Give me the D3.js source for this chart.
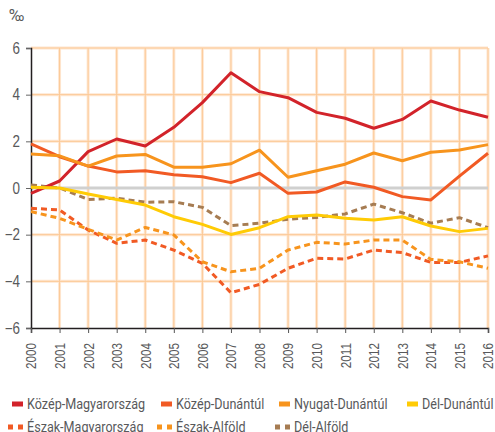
<!DOCTYPE html>
<html>
<head>
<meta charset="utf-8">
<script src="https://cdn.jsdelivr.net/npm/d3@7"></script>
<style>
  body { margin: 0; background: #fff; }
  svg { font-family: "Roboto", "Liberation Sans", sans-serif; }
</style>
</head>
<body>
<svg id="chart"></svg>
<script>
// chart size, matches the window
const SVG_WIDTH = 495;
const SVG_HEIGHT = 432;
// the original font is a condensed one, so texts are squeezed a bit
const SQUEEZE = 0.84;

const years = d3.range(2000, 2017);
const yTicks = [-6, -4, -2, 0, 2, 4, 6];

// values (per mille)
const kozepMagyar = [-0.23, 0.3, 1.56, 2.1, 1.8, 2.6, 3.66, 4.94, 4.13, 3.87, 3.24, 2.99, 2.56, 2.94, 3.73, 3.34, 3.03];
const kozepDunantul = [1.89, 1.34, 0.94, 0.69, 0.74, 0.57, 0.48, 0.23, 0.63, -0.23, -0.17, 0.26, 0.03, -0.37, -0.51, 0.51, 1.49];
const nyugatDunantul = [1.46, 1.38, 0.94, 1.37, 1.44, 0.89, 0.89, 1.04, 1.62, 0.46, 0.74, 1.02, 1.5, 1.17, 1.53, 1.63, 1.86];
const delDunantul = [0.03, 0, -0.26, -0.49, -0.73, -1.23, -1.56, -1.99, -1.7, -1.23, -1.16, -1.3, -1.37, -1.23, -1.63, -1.87, -1.73];
const eszakMagyar = [-0.87, -0.94, -1.8, -2.37, -2.23, -2.66, -3.23, -4.49, -4.13, -3.44, -3.01, -3.04, -2.66, -2.77, -3.19, -3.19, -2.91];
const eszakAlfold = [-1.01, -1.3, -1.77, -2.23, -1.69, -2.01, -3.16, -3.59, -3.44, -2.66, -2.33, -2.4, -2.23, -2.23, -3.06, -3.16, -3.44];
const delAlfold = [0.13, 0, -0.49, -0.44, -0.61, -0.59, -0.83, -1.61, -1.51, -1.34, -1.26, -1.11, -0.69, -1.06, -1.51, -1.27, -1.7];

const series = [
  {name: 'Közép-Magyarország', values: kozepMagyar, color: '#d2232a', dashed: false},
  {name: 'Közép-Dunántúl', values: kozepDunantul, color: '#f15a24', dashed: false},
  {name: 'Nyugat-Dunántúl', values: nyugatDunantul, color: '#f7941d', dashed: false},
  {name: 'Dél-Dunántúl', values: delDunantul, color: '#ffcb05', dashed: false},
  {name: 'Észak-Magyarország', values: eszakMagyar, color: '#f15a24', dashed: true},
  {name: 'Észak-Alföld', values: eszakAlfold, color: '#f7941d', dashed: true},
  {name: 'Dél-Alföld', values: delAlfold, color: '#a67c52', dashed: true}
];

const svg = d3.select('#chart')
  .attr('width', SVG_WIDTH)
  .attr('height', SVG_HEIGHT);

const x = d3.scaleLinear().domain([2000, 2016]).range([31, 488]);
const y = d3.scaleLinear().domain([-6, 6]).range([328, 48]);

// grid
const grid = svg.append('g');
for (const stroke of [{c: '#fee6d0', w: 3}, {c: '#fcc996', w: 1}]) {
  grid.selectAll(null)
    .data(years.slice(1))
    .enter().append('line')
    .attr('x1', d => x(d)).attr('x2', d => x(d))
    .attr('y1', y(6)).attr('y2', y(-6))
    .attr('stroke', stroke.c).attr('stroke-width', stroke.w);
  grid.selectAll(null)
    .data([6, 4, 2, -2, -4])
    .enter().append('line')
    .attr('x1', x(2000)).attr('x2', x(2016))
    .attr('y1', d => y(d)).attr('y2', d => y(d))
    .attr('stroke', stroke.c).attr('stroke-width', stroke.w);
}

// zero line
svg.append('line')
  .attr('x1', x(2000)).attr('x2', x(2016))
  .attr('y1', y(0)).attr('y2', y(0))
  .attr('stroke', '#d0d0cf').attr('stroke-width', 3);

// axes
const yAxis = svg.append('g')
  .attr('transform', `translate(${x(2000)},0)`)
  .call(d3.axisLeft(y).tickValues(yTicks).tickSize(5)
    .tickFormat(d => d < 0 ? '\u2212' + Math.abs(d) : d));
yAxis.select('.domain').attr('stroke', '#231f20').attr('stroke-width', 1.5);
yAxis.selectAll('.tick line').attr('stroke', '#666');
yAxis.selectAll('.tick text')
  .attr('fill', '#58595b').attr('font-size', 16)
  .attr('font-family', 'inherit')
  .attr('x', -11 / SQUEEZE)
  .attr('transform', `scale(${SQUEEZE},1)`);

const xAxis = svg.append('g')
  .attr('transform', `translate(0,${y(-6)})`)
  .call(d3.axisBottom(x).tickValues(years).tickSize(5).tickFormat(d3.format('d')));
xAxis.select('.domain').attr('stroke', '#231f20').attr('stroke-width', 1.5);
xAxis.selectAll('.tick line').attr('stroke', '#555');
xAxis.selectAll('.tick text')
  .attr('fill', '#58595b').attr('font-size', 14)
  .attr('font-family', 'inherit')
  .attr('transform', `rotate(-90) scale(${SQUEEZE},1)`)
  .attr('text-anchor', 'end')
  .attr('x', -15 / SQUEEZE).attr('y', 0).attr('dy', '0.35em');

// unit label
svg.append('text')
  .attr('x', 9).attr('y', 21)
  .attr('fill', '#58595b').attr('font-size', 16)
  .text('‰');

// lines, dashed ones first so the solid ones sit on top
const line = d3.line()
  .x((d, i) => x(years[i]))
  .y(d => y(d));

const drawOrder = series.slice(4).concat(series.slice(0, 4));
svg.append('g')
  .selectAll('path')
  .data(drawOrder)
  .enter().append('path')
  .attr('d', d => line(d.values))
  .attr('fill', 'none')
  .attr('stroke', d => d.color)
  .attr('stroke-width', 3)
  .attr('stroke-linejoin', 'round')
  .attr('stroke-dasharray', d => d.dashed ? '6,4' : null);

// legend
const legendPos = [
  [12, 404], [161, 404], [279, 404], [407, 404],
  [8, 427], [157, 427], [275, 427]
];
const legend = svg.append('g')
  .selectAll('g')
  .data(series)
  .enter().append('g')
  .attr('transform', (d, i) => `translate(${legendPos[i][0]},${legendPos[i][1]})`);

legend.each(function(d) {
  const g = d3.select(this);
  if (d.dashed) {
    g.append('rect').attr('x', 0).attr('y', -2.5).attr('width', 5).attr('height', 5).attr('fill', d.color);
    g.append('rect').attr('x', 10).attr('y', -2.5).attr('width', 5).attr('height', 5).attr('fill', d.color);
  } else {
    g.append('rect').attr('x', 0).attr('y', -2.5).attr('width', 11).attr('height', 5).attr('fill', d.color);
  }
});
legend.append('text')
  .attr('x', d => (d.dashed ? 19 : 15) / SQUEEZE)
  .attr('y', 0)
  .attr('dy', '0.35em')
  .attr('transform', `scale(${SQUEEZE},1)`)
  .attr('fill', '#58595b')
  .attr('font-size', 15)
  .text(d => d.name);
</script>
</body>
</html>
